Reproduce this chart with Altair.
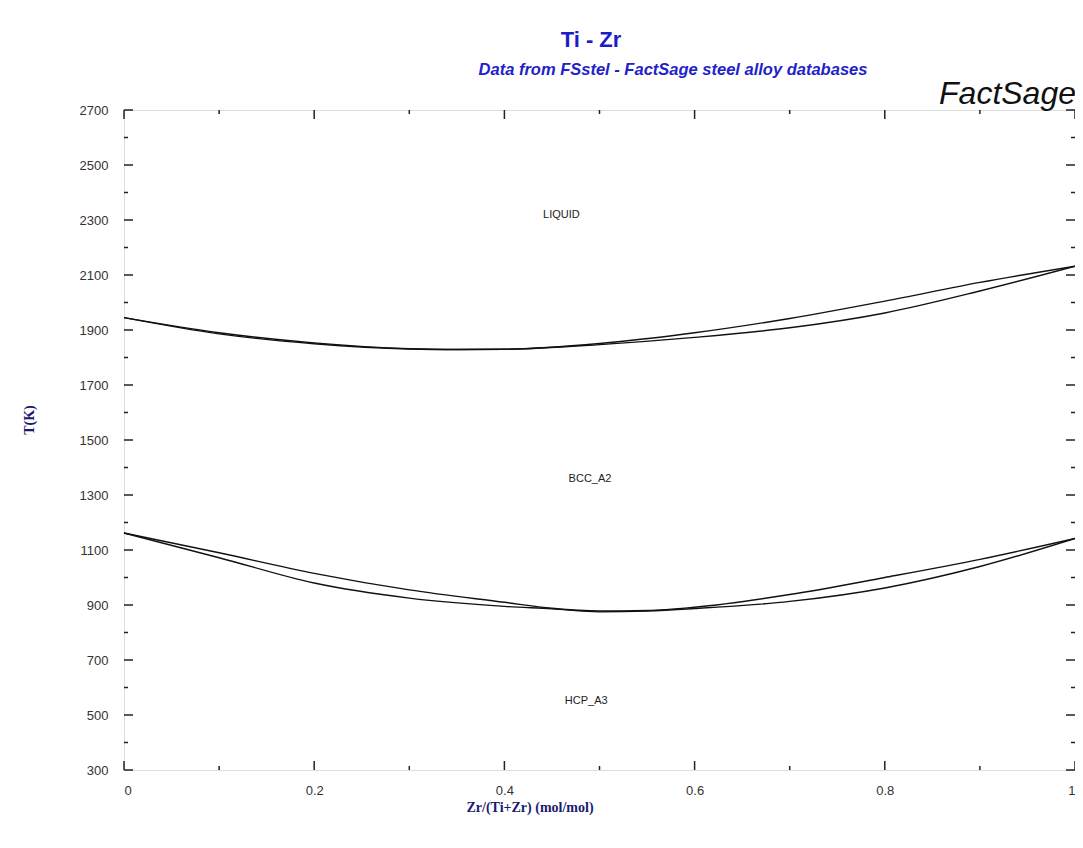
import altair as alt
import pandas as pd

# ---- data ----
x_liq = [0.0, 0.1, 0.2, 0.3, 0.35, 0.4, 0.5, 0.6, 0.7, 0.8, 0.9, 1.0]
t_liquidus = [1945, 1890, 1853, 1832, 1829, 1830, 1851, 1890, 1942, 2005, 2073, 2132]
t_solidus = [1945, 1886, 1850, 1831, 1829, 1830, 1847, 1873, 1908, 1962, 2042, 2132]

x_tr = [0.0, 0.1, 0.2, 0.3, 0.4, 0.45, 0.5, 0.55, 0.6, 0.7, 0.8, 0.9, 1.0]
t_beta_transus = [1162, 1090, 1015, 955, 910, 888, 878, 880, 892, 938, 1000, 1066, 1142]
t_alpha_transus = [1162, 1072, 980, 925, 895, 886, 875, 878, 887, 913, 962, 1040, 1142]

phase_names = ["LIQUID", "BCC_A2", "HCP_A3"]
phase_x = [0.46, 0.49, 0.486]
phase_t = [2318, 1360, 550]

x_ticks = [0.0, 0.2, 0.4, 0.6, 0.8, 1.0]
x_minor = [0.1, 0.3, 0.5, 0.7, 0.9]
y_ticks = [300, 500, 700, 900, 1100, 1300, 1500, 1700, 1900, 2100, 2300, 2500, 2700]
y_minor = [400, 600, 800, 1000, 1200, 1400, 1600, 1800, 2000, 2200, 2400, 2600]

W, H = 951, 660

rows = []
for name, xs, ts in [("liquidus", x_liq, t_liquidus), ("solidus", x_liq, t_solidus),
                     ("beta", x_tr, t_beta_transus), ("alpha", x_tr, t_alpha_transus)]:
    for xv, tv in zip(xs, ts):
        rows.append({"curve": name, "x": xv, "T": tv})
curves = pd.DataFrame(rows)

xs = alt.Scale(domain=[0, 1], nice=False, zero=False)
ys = alt.Scale(domain=[300, 2700], nice=False, zero=False)

lines = alt.Chart(curves).mark_line(color="#111111", strokeWidth=1.4, interpolate="monotone").encode(
    x=alt.X("x:Q", scale=xs,
            axis=alt.Axis(values=x_ticks, format="~g", title=None, ticks=False, tickSize=0, labelPadding=14,
                          labelFont="Liberation Sans", labelFontSize=13, labelColor="#333",
                          domain=False, grid=False)),
    y=alt.Y("T:Q", scale=ys,
            axis=alt.Axis(values=y_ticks, title=None, ticks=False, tickSize=0, labelPadding=16, format="d",
                          labelFont="Liberation Sans", labelFontSize=13, labelColor="#333",
                          domain=False, grid=False)),
    detail="curve:N",
)

labels_df = pd.DataFrame({"name": phase_names, "x": phase_x, "T": phase_t})
phase_text = alt.Chart(labels_df).mark_text(font="Liberation Sans", fontSize=11, color="#222").encode(
    x=alt.X("x:Q", scale=xs), y=alt.Y("T:Q", scale=ys), text="name:N")

# inward tick marks on all four sides, positioned via the scales
ymaj = pd.DataFrame({"T": y_ticks})
ymin = pd.DataFrame({"T": y_minor})
xmaj = pd.DataFrame({"x": x_ticks})
xmin = pd.DataFrame({"x": x_minor})
tc = "#222"
ticks = [
    alt.Chart(ymaj).mark_rule(color=tc, strokeWidth=1.5).encode(y=alt.Y("T:Q", scale=ys), x=alt.value(0), x2=alt.value(9)),
    alt.Chart(ymin).mark_rule(color=tc, strokeWidth=1.5).encode(y=alt.Y("T:Q", scale=ys), x=alt.value(0), x2=alt.value(4)),
    alt.Chart(ymaj).mark_rule(color=tc, strokeWidth=1.5).encode(y=alt.Y("T:Q", scale=ys), x=alt.value(W), x2=alt.value(W - 9)),
    alt.Chart(ymin).mark_rule(color=tc, strokeWidth=1.5).encode(y=alt.Y("T:Q", scale=ys), x=alt.value(W), x2=alt.value(W - 4)),
    alt.Chart(xmaj).mark_rule(color=tc, strokeWidth=1.5).encode(x=alt.X("x:Q", scale=xs), y=alt.value(H), y2=alt.value(H - 9)),
    alt.Chart(xmin).mark_rule(color=tc, strokeWidth=1.5).encode(x=alt.X("x:Q", scale=xs), y=alt.value(H), y2=alt.value(H - 4)),
    alt.Chart(xmaj).mark_rule(color=tc, strokeWidth=1.5).encode(x=alt.X("x:Q", scale=xs), y=alt.value(0), y2=alt.value(9)),
    alt.Chart(xmin).mark_rule(color=tc, strokeWidth=1.5).encode(x=alt.X("x:Q", scale=xs), y=alt.value(0), y2=alt.value(4)),
]

one = pd.DataFrame({"a": [0]})
title = alt.Chart(one).mark_text(text="Ti - Zr", font="Liberation Sans", fontSize=22, fontWeight="bold",
                                 color="#1c1cc8", align="center", baseline="middle").encode(
    x=alt.value(467), y=alt.value(-70))
subtitle = alt.Chart(one).mark_text(text="Data from FSstel - FactSage steel alloy databases",
                                    font="Liberation Sans", fontSize=16.5, fontWeight="bold", fontStyle="italic",
                                    color="#2222c8", align="center", baseline="middle").encode(
    x=alt.value(549), y=alt.value(-40))
brand = alt.Chart(one).mark_text(text="FactSage", font="Liberation Sans", fontSize=32, fontStyle="italic",
                                 color="#111", align="right", baseline="alphabetic").encode(
    x=alt.value(W + 1), y=alt.value(-6))
xtitle = alt.Chart(one).mark_text(text="Zr/(Ti+Zr) (mol/mol)", font="Liberation Serif", fontSize=14,
                                  fontWeight="bold", color="#1a1a70", align="center", baseline="middle").encode(
    x=alt.value(406), y=alt.value(698))
ytitle = alt.Chart(one).mark_text(text="T(K)", font="Liberation Serif", fontSize=14, fontWeight="bold",
                                  color="#1a1a70", align="center", baseline="middle", angle=270).encode(
    x=alt.value(-94), y=alt.value(310))

chart = alt.layer(lines, phase_text, *ticks, title, subtitle, brand, xtitle, ytitle).properties(
    width=W, height=H,
    autosize=alt.AutoSizeParams(type="none"),
    padding={"left": 116, "top": 102, "right": 0, "bottom": 70},
).configure_view(stroke="#8a8a8a", strokeWidth=2).configure(background="white")

chart.save("out.html", embed_options={"renderer": "svg", "actions": False})
